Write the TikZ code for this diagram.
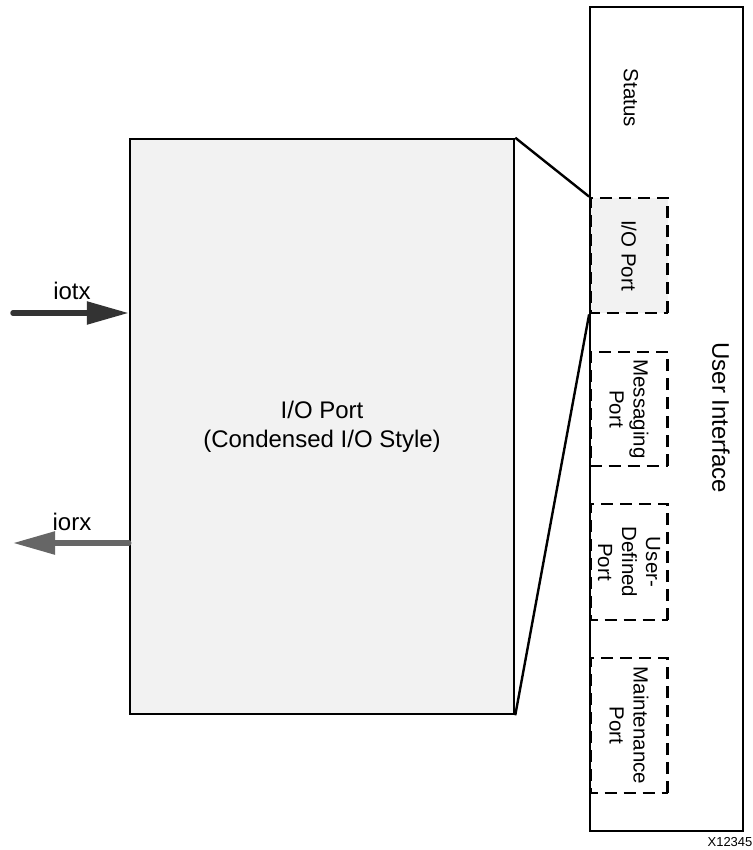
\documentclass[tikz,border=0pt]{standalone}
\usepackage{fontspec}
\setmainfont{Liberation Sans}
\usetikzlibrary{arrows.meta}
\definecolor{boxfill}{HTML}{F2F2F2}
\definecolor{txcol}{HTML}{333333}
\definecolor{rxcol}{HTML}{666666}
\tikzset{
  bigbox/.style={draw=black, line width=2.5pt, fill=boxfill, inner sep=0pt, align=center,
    font=\fontsize{24}{29}\selectfont},
  uibox/.style={draw=black, line width=2.7pt, inner sep=0pt},
  portbox/.style={draw=black, line width=2.8pt, dash pattern=on 12pt off 7pt, inner sep=0pt,
    rotate=-90, align=center, font=\fontsize{20.5}{24}\selectfont},
  rotlabel/.style={rotate=-90, inner sep=0pt, align=center},
  zoomline/.style={draw=black, line width=2.4pt},
  sigarrow/.style={line width=5.5pt, line cap=round, -{Triangle[length=42pt,width=22pt]}},
  siglabel/.style={inner sep=0pt, font=\fontsize{24}{29}\selectfont},
}
\begin{document}
\begin{tikzpicture}[x=1pt,y=-1pt]
\useasboundingbox (0,0) rectangle (752,850);
% main I/O port box
\node[bigbox, minimum width=384pt, minimum height=575pt] (io) at (322,426.5)
  {I/O Port\\(Condensed I/O Style)};
% user interface box
\node[uibox, minimum width=153pt, minimum height=824pt] (ui) at (666.5,419) {};
\node[rotlabel, font=\fontsize{20.5}{24}\selectfont] (status) at (631,98) {Status};
\node[rotlabel, font=\fontsize{24}{29}\selectfont] (uilabel) at (721,418) {User Interface};
% ports (rotated: minimum width is vertical extent)
\node[portbox, fill=boxfill, minimum width=115pt, minimum height=77pt] (iop) at (629,255.5) {I/O Port};
\node[portbox, minimum width=114pt, minimum height=77pt] (msg) at (629,409) {Messaging\\Port};
\node[portbox, minimum width=116pt, minimum height=77pt] (udp) at (629,562) {User-\\Defined\\Port};
\node[portbox, minimum width=135pt, minimum height=77pt] (mnt) at (629,725.5) {Maintenance\\Port};
% zoom lines
\draw[zoomline] (io.north east) -- (iop.south west);
\draw[zoomline] (io.south east) -- (iop.south east);
% signals
\coordinate (txstart) at (13,313);
\coordinate (rxend) at (13,543);
\draw[sigarrow, draw=txcol, fill=txcol] (txstart) -- (io.west |- txstart);
\draw[sigarrow, draw=rxcol, fill=rxcol] (io.west |- rxend) -- (rxend);
\node[siglabel] (iotx) at (72,291) {iotx};
\node[siglabel] (iorx) at (72,522) {iorx};
\node[inner sep=0pt, font=\fontsize{13}{15}\selectfont] (fig) at (730,842) {X12345};
\end{tikzpicture}
\end{document}
